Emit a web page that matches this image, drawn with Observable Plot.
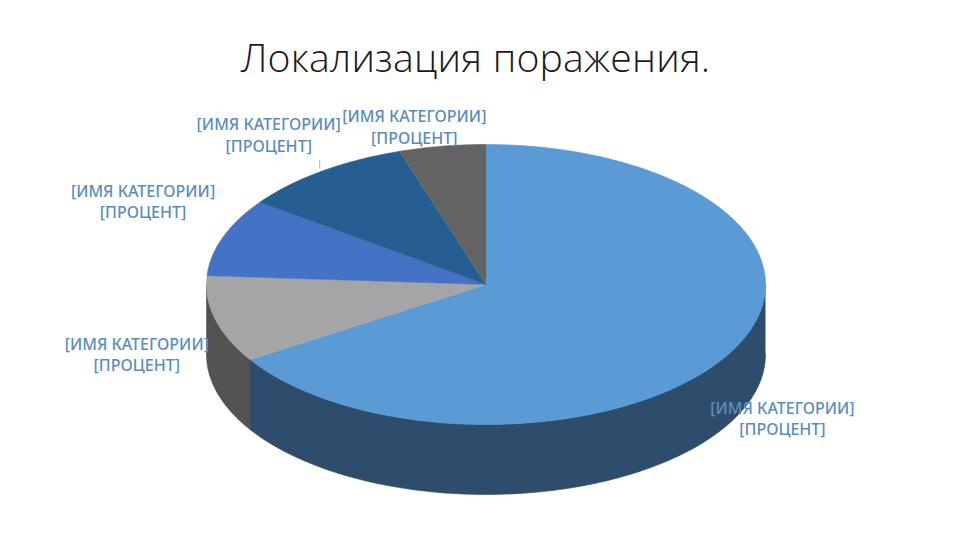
<!DOCTYPE html>
<html lang="ru">
<head>
<meta charset="utf-8">
<script src="https://cdn.jsdelivr.net/npm/d3@7"></script>
<script src="https://cdn.jsdelivr.net/npm/@observablehq/plot@0.6"></script>
<style>
  html, body { margin: 0; padding: 0; background: #fff; }
  #title { height: 90px; width: 960px; box-sizing: border-box; padding-top: 29px; padding-right: 9px; text-align: center; font: 300 39.2px/56px "Open Sans", sans-serif; color: #1a1a1a; letter-spacing: 0.2px; white-space: nowrap; }
  #chart svg { display: block; }
</style>
</head>
<body>
<div id="title"></div>
<div id="chart"></div>
<script>
const titleText = "Локализация поражения.";
const categories = ["[ИМЯ КАТЕГОРИИ]", "[ИМЯ КАТЕГОРИИ]", "[ИМЯ КАТЕГОРИИ]", "[ИМЯ КАТЕГОРИИ]", "[ИМЯ КАТЕГОРИИ]"];
const percentLabels = ["[ПРОЦЕНТ]", "[ПРОЦЕНТ]", "[ПРОЦЕНТ]", "[ПРОЦЕНТ]", "[ПРОЦЕНТ]"];
const values = [66, 10, 9, 10, 5];
const topColors = ["#5b9bd5", "#a5a5a5", "#4472c4", "#255e91", "#636363"];
const sideColors = ["#2e4d6d", "#535353", "#294478", "#163857", "#3b3b3b"];
// label position relative to each slice's rim midpoint, in pixels
const labelDx = [51.5, -78.5, -80, -53, -28];
const labelDy = [66, 34, -36, -37, -20];

const W = 960, H = 450;
const rx = 279.5, ry = 140, depth = 70;
const cxPx = 485.5, cyPx = 194;

const total = d3.sum(values);
const deg = Math.PI / 180;
let acc = 0;
const slices = values.map((v, i) => {
  const a0 = acc / total * 360;
  acc += v;
  return { i, a0, a1: acc / total * 360, mid: (a0 + (a0 + v / total * 360)) / 2 };
});

const rim = (a, drop = 0) => ({ x: rx * Math.sin(a * deg), y: -ry * Math.cos(a * deg) + drop });
const arc = (a0, a1, drop = 0) => {
  const n = Math.max(2, Math.ceil(Math.abs(a1 - a0)));
  return d3.range(n + 1).map(k => rim(a0 + (a1 - a0) * k / n, drop));
};

const polygon = (pts, color) =>
  Plot.line(pts, { x: "x", y: "y", fill: color, stroke: color, strokeWidth: 0.6, curve: "linear" });

// Walls: only the front half of the ellipse (90deg..270deg) is visible.
const walls = slices
  .filter(s => s.a1 > 90 && s.a0 < 270)
  .map(s => {
    const a0 = Math.max(s.a0, 90), a1 = Math.min(s.a1, 270);
    return polygon([...arc(a0, a1, 0), ...arc(a1, a0, depth)], sideColors[s.i]);
  });

const tops = slices.map(s =>
  polygon([{ x: 0, y: 0 }, ...arc(s.a0, s.a1)], topColors[s.i])
);

const labels = slices.map(s => {
  const p = rim(s.mid);
  return {
    x: p.x + labelDx[s.i],
    y: p.y + labelDy[s.i],
    text: categories[s.i] + "\n" + percentLabels[s.i]
  };
});

const leaderRim = rim(slices[3].mid);

document.getElementById("title").textContent = titleText;

const plot = Plot.plot({
  width: W,
  height: H,
  margin: 0,
  x: { domain: [-cxPx, W - cxPx], range: [0, W], axis: null },
  y: { domain: [-cyPx, H - cyPx], range: [0, H], axis: null },
  style: { background: "transparent" },
  marks: [
    ...walls,
    ...tops,
    Plot.link([leaderRim], {
      x1: d => d.x - 2, x2: d => d.x - 2,
      y1: d => d.y - 3, y2: d => d.y - 11,
      stroke: "#b0b0b0", strokeWidth: 1
    }),
    Plot.text(labels, {
      x: "x", y: "y", text: "text",
      fill: "#5a8dbd",
      fontSize: 16,
      fontWeight: 500,
      fontFamily: "'Noto Sans', sans-serif",
      lineHeight: 1.32,
      textAnchor: "middle"
    })
  ]
});
document.getElementById("chart").appendChild(plot);
</script>
</body>
</html>
